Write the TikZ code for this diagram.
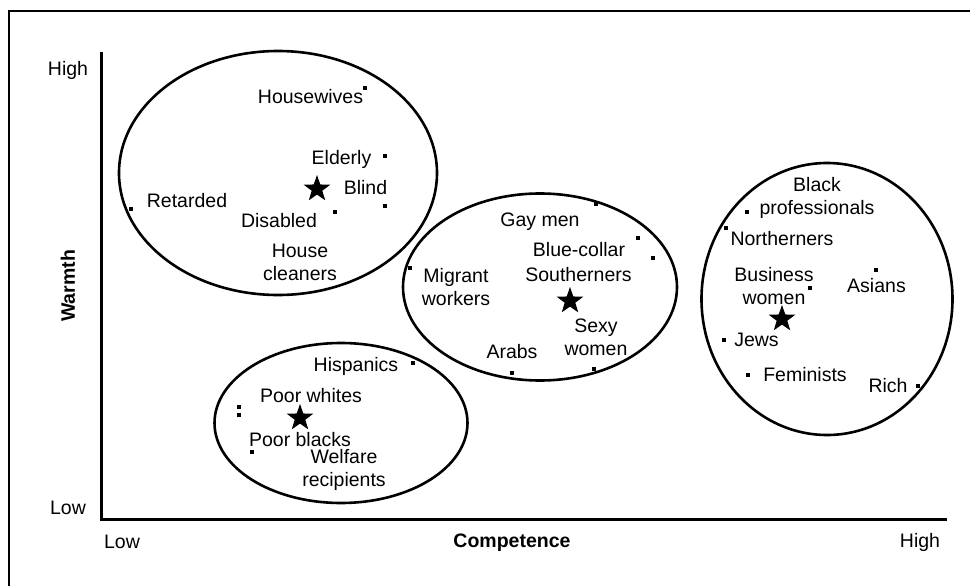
\documentclass[tikz,border=0pt]{standalone}
\usepackage{fontspec}
\setmainfont{Liberation Sans}
\usetikzlibrary{shapes.geometric}
\begin{document}
\begin{tikzpicture}[x=1pt,y=-1pt,
  lbl/.style={font=\fontsize{19.5}{23}\selectfont, align=center, inner sep=0pt},
  axlbl/.style={font=\fontsize{19.5}{23}\selectfont\bfseries, inner sep=0pt},
  grp/.style={draw=black, line width=2.6pt, ellipse, inner sep=0pt},
  pt/.style={fill=black, rectangle, minimum size=4.2pt, inner sep=0pt},
  ctr/.style={fill=black, star, star points=5, star point ratio=2.5, minimum size=28pt, inner sep=0pt},
  axis/.style={line width=3pt}]
\useasboundingbox (0,0) rectangle (970,586);
\fill[white] (0,0) rectangle (970,586);
% outer frame
\draw[line width=2.4pt] (9,600) -- (9,11) -- (980,11);

% axes
\coordinate (ytop) at (101,52);
\coordinate (orig) at (101,519);
\coordinate (xend) at (947,519);
\draw[axis] (ytop) -- (orig) -- (xend);
\node[lbl] (yhigh) at (68,70) {High};
\node[lbl] (ylow) at (68,508) {Low};
\node[lbl] (xlow) at (122,542) {Low};
\node[lbl] (xhigh) at (920,542) {High};
\node[axlbl, rotate=90] (warmth) at (68,286) {Warmth};
\node[axlbl] (comp) at (512,543) {Competence};

% clusters
\node[grp, minimum width=318pt, minimum height=244pt] (c1) at (278,173) {};
\node[grp, minimum width=274pt, minimum height=187pt] (c2) at (540,287) {};
\node[grp, minimum width=251pt, minimum height=272pt] (c3) at (827,299) {};
\node[grp, minimum width=253pt, minimum height=160pt] (c4) at (341,423) {};

% cluster centres
\node[ctr] (s1) at (317,189) {};
\node[ctr] (s2) at (570,301) {};
\node[ctr] (s3) at (782,319) {};
\node[ctr] (s4) at (300,418) {};

% cluster 1
\node[pt] (p-house) at (365,88) {};
\node[pt] (p-eld) at (385,156) {};
\node[pt] (p-blind) at (385,206) {};
\node[pt] (p-ret) at (131,209) {};
\node[pt] (p-dis) at (335,212) {};
\node[lbl] (t-house) at (310.5,97) {Housewives};
\node[lbl] (t-eld) at (341.5,159) {Elderly};
\node[lbl] (t-blind) at (365.5,188) {Blind};
\node[lbl] (t-ret) at (187,201) {Retarded};
\node[lbl] (t-dis) at (279,221) {Disabled};
\node[lbl] (t-hc) at (300,262) {House\\cleaners};

% cluster 2
\node[pt] (p-gay) at (596,204) {};
\node[pt] (p-blue) at (638,238) {};
\node[pt] (p-south) at (653,258) {};
\node[pt] (p-mig) at (410,268) {};
\node[pt] (p-sexy) at (594,369) {};
\node[pt] (p-arab) at (512,373) {};
\node[lbl] (t-gay) at (540,222) {Gay men};
\node[lbl] (t-blue) at (579,250) {Blue-collar};
\node[lbl] (t-south) at (578.5,275) {Southerners};
\node[lbl] (t-mig) at (456,287) {Migrant\\workers};
\node[lbl] (t-sexy) at (596,337) {Sexy\\women};
\node[lbl] (t-arab) at (512,352) {Arabs};

% cluster 3
\node[pt] (p-black) at (747,212) {};
\node[pt] (p-north) at (726,228) {};
\node[pt] (p-bus) at (810,288) {};
\node[pt] (p-asian) at (876,270) {};
\node[pt] (p-jews) at (724,340) {};
\node[pt] (p-fem) at (748,375) {};
\node[pt] (p-rich) at (918,386) {};
\node[lbl] (t-black) at (817,198) {Black\\professionals};
\node[lbl] (t-north) at (782,239) {Northerners};
\node[lbl] (t-bus) at (774,286) {Business\\women};
\node[lbl] (t-asian) at (876.5,286) {Asians};
\node[lbl] (t-jews) at (756.5,340) {Jews};
\node[lbl] (t-fem) at (805,375) {Feminists};
\node[lbl] (t-rich) at (888,386) {Rich};

% cluster 4
\node[pt] (p-hisp) at (413,363) {};
\node[pt] (p-pw1) at (239,407) {};
\node[pt] (p-pw2) at (239,415) {};
\node[pt] (p-pb) at (252,452) {};
\node[lbl] (t-hisp) at (356,366) {Hispanics};
\node[lbl] (t-pw) at (311,396) {Poor whites};
\node[lbl] (t-pb) at (300,440) {Poor blacks};
\node[lbl] (t-wel) at (344,470) {Welfare\\recipients};
\end{tikzpicture}
\end{document}
